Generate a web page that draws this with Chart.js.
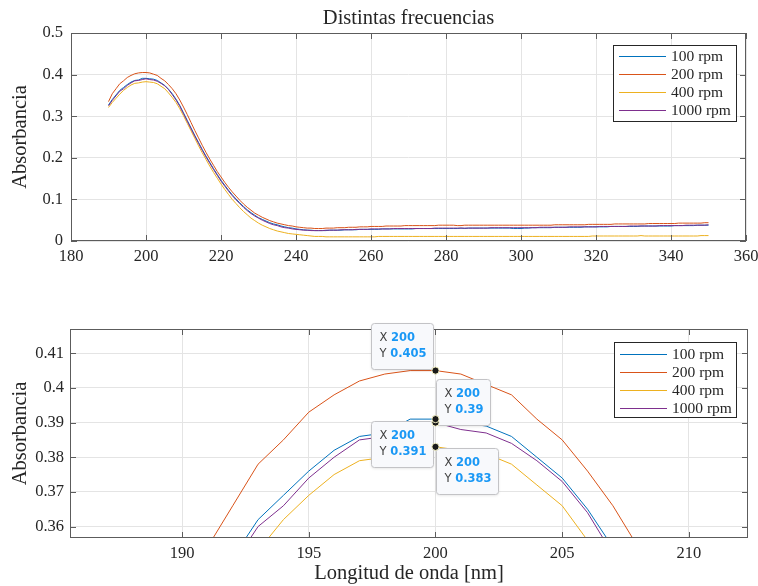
<!DOCTYPE html>
<html>
<head>
<meta charset="utf-8">
<script src="https://cdn.jsdelivr.net/npm/chart.js@4.4.1/dist/chart.umd.min.js"></script>
<style>
  html, body { margin: 0; padding: 0; background: #ffffff; }
  #wrap { position: relative; width: 758px; height: 586px; overflow: hidden; }
  canvas { position: absolute; left: 0; }
  #topChart { top: 0; }
  #zoomChart { top: 290px; }
</style>
</head>
<body>
<div id="wrap">
  <canvas id="topChart" width="758" height="290"></canvas>
  <canvas id="zoomChart" width="758" height="296"></canvas>
</div>
<script>
// Longitudes de onda (nm)
const wavelengths = [
  190, 191, 192, 193, 194, 195, 196, 197, 198, 199,
  200, 201, 202, 203, 204, 205, 206, 207, 208, 209,
  210, 211, 212, 213, 214, 215, 216, 217, 218, 219,
  220, 221, 222, 223, 224, 225, 226, 227, 228, 229,
  230, 231, 232, 233, 234, 235, 236, 237, 238, 239,
  240, 241, 242, 243, 244, 245, 246, 247, 248, 249,
  250, 251, 252, 253, 254, 255, 256, 257, 258, 259,
  260, 261, 262, 263, 264, 265, 266, 267, 268, 269,
  270, 271, 272, 273, 274, 275, 276, 277, 278, 279,
  280, 281, 282, 283, 284, 285, 286, 287, 288, 289,
  290, 291, 292, 293, 294, 295, 296, 297, 298, 299,
  300, 301, 302, 303, 304, 305, 306, 307, 308, 309,
  310, 311, 312, 313, 314, 315, 316, 317, 318, 319,
  320, 321, 322, 323, 324, 325, 326, 327, 328, 329,
  330, 331, 332, 333, 334, 335, 336, 337, 338, 339,
  340, 341, 342, 343, 344, 345, 346, 347, 348, 349,
  350
];

const rpm100 = [
  0.327, 0.340, 0.351, 0.362, 0.369, 0.376, 0.382, 0.386, 0.387, 0.391,
  0.391, 0.390, 0.389, 0.386, 0.380, 0.374, 0.365, 0.354, 0.341, 0.326,
  0.308, 0.290, 0.272, 0.254, 0.237, 0.220, 0.204, 0.189, 0.174, 0.160,
  0.146, 0.134, 0.122, 0.111, 0.101, 0.092, 0.083, 0.075, 0.068, 0.062,
  0.056, 0.052, 0.048, 0.044, 0.041, 0.039, 0.036, 0.034, 0.032, 0.031,
  0.029, 0.028, 0.027, 0.026, 0.026, 0.025, 0.025, 0.025, 0.025, 0.026,
  0.026, 0.026, 0.026, 0.027, 0.027, 0.027, 0.027, 0.028, 0.028, 0.028,
  0.028, 0.028, 0.028, 0.029, 0.029, 0.029, 0.029, 0.029, 0.029, 0.029,
  0.029, 0.029, 0.030, 0.030, 0.030, 0.030, 0.030, 0.030, 0.030, 0.030,
  0.030, 0.030, 0.030, 0.030, 0.031, 0.030, 0.031, 0.031, 0.031, 0.031,
  0.031, 0.031, 0.031, 0.031, 0.031, 0.031, 0.031, 0.031, 0.030, 0.030,
  0.030, 0.031, 0.031, 0.032, 0.032, 0.032, 0.032, 0.032, 0.032, 0.033,
  0.033, 0.033, 0.033, 0.033, 0.033, 0.033, 0.033, 0.034, 0.034, 0.034,
  0.034, 0.034, 0.034, 0.034, 0.035, 0.035, 0.035, 0.035, 0.035, 0.035,
  0.035, 0.035, 0.036, 0.036, 0.036, 0.036, 0.036, 0.036, 0.036, 0.036,
  0.036, 0.037, 0.037, 0.037, 0.037, 0.037, 0.037, 0.038, 0.038, 0.038,
  0.038
];

const rpm200 = [
  0.335, 0.354, 0.366, 0.378, 0.385, 0.393, 0.398, 0.402, 0.404, 0.405,
  0.405, 0.404, 0.401, 0.398, 0.391, 0.385, 0.376, 0.366, 0.354, 0.339,
  0.322, 0.304, 0.285, 0.266, 0.248, 0.230, 0.213, 0.197, 0.182, 0.167,
  0.154, 0.141, 0.129, 0.118, 0.108, 0.098, 0.089, 0.081, 0.074, 0.067,
  0.062, 0.057, 0.053, 0.049, 0.046, 0.043, 0.041, 0.039, 0.037, 0.036,
  0.034, 0.033, 0.032, 0.031, 0.031, 0.030, 0.030, 0.030, 0.031, 0.031,
  0.031, 0.032, 0.032, 0.032, 0.033, 0.033, 0.033, 0.034, 0.034, 0.034,
  0.035, 0.035, 0.035, 0.035, 0.036, 0.036, 0.036, 0.036, 0.036, 0.037,
  0.037, 0.037, 0.037, 0.037, 0.037, 0.037, 0.037, 0.037, 0.038, 0.038,
  0.038, 0.038, 0.038, 0.037, 0.037, 0.038, 0.038, 0.038, 0.038, 0.038,
  0.038, 0.038, 0.038, 0.038, 0.038, 0.038, 0.038, 0.038, 0.038, 0.038,
  0.038, 0.038, 0.038, 0.038, 0.038, 0.038, 0.038, 0.038, 0.038, 0.039,
  0.039, 0.039, 0.039, 0.039, 0.039, 0.039, 0.039, 0.039, 0.040, 0.040,
  0.040, 0.040, 0.040, 0.040, 0.040, 0.041, 0.041, 0.041, 0.041, 0.041,
  0.041, 0.041, 0.041, 0.041, 0.042, 0.042, 0.042, 0.042, 0.042, 0.042,
  0.042, 0.042, 0.043, 0.043, 0.043, 0.043, 0.043, 0.043, 0.043, 0.044,
  0.044
];

const rpm400 = [
  0.321, 0.333, 0.343, 0.353, 0.362, 0.369, 0.375, 0.379, 0.380, 0.382,
  0.383, 0.382, 0.381, 0.378, 0.372, 0.366, 0.356, 0.345, 0.333, 0.318,
  0.301, 0.283, 0.265, 0.247, 0.229, 0.212, 0.196, 0.180, 0.165, 0.151,
  0.137, 0.124, 0.112, 0.100, 0.090, 0.080, 0.071, 0.063, 0.055, 0.049,
  0.043, 0.038, 0.034, 0.030, 0.027, 0.024, 0.022, 0.020, 0.018, 0.017,
  0.016, 0.015, 0.014, 0.013, 0.012, 0.011, 0.011, 0.011, 0.010, 0.010,
  0.010, 0.010, 0.010, 0.010, 0.010, 0.010, 0.010, 0.010, 0.010, 0.010,
  0.010, 0.010, 0.011, 0.011, 0.011, 0.011, 0.011, 0.011, 0.011, 0.011,
  0.011, 0.011, 0.011, 0.011, 0.011, 0.011, 0.011, 0.011, 0.011, 0.011,
  0.011, 0.011, 0.011, 0.011, 0.011, 0.011, 0.011, 0.011, 0.011, 0.011,
  0.011, 0.011, 0.011, 0.011, 0.011, 0.011, 0.011, 0.011, 0.011, 0.011,
  0.011, 0.011, 0.011, 0.011, 0.011, 0.011, 0.011, 0.011, 0.011, 0.011,
  0.011, 0.011, 0.011, 0.011, 0.011, 0.011, 0.011, 0.011, 0.011, 0.012,
  0.012, 0.012, 0.012, 0.012, 0.012, 0.012, 0.012, 0.012, 0.012, 0.012,
  0.012, 0.012, 0.013, 0.012, 0.012, 0.012, 0.012, 0.012, 0.012, 0.012,
  0.012, 0.012, 0.012, 0.012, 0.012, 0.012, 0.012, 0.012, 0.013, 0.013,
  0.013
];

const rpm1000 = [
  0.325, 0.338, 0.349, 0.360, 0.366, 0.374, 0.380, 0.385, 0.386, 0.388,
  0.390, 0.388, 0.387, 0.384, 0.379, 0.373, 0.364, 0.352, 0.339, 0.324,
  0.306, 0.288, 0.270, 0.252, 0.235, 0.218, 0.202, 0.187, 0.172, 0.158,
  0.144, 0.132, 0.120, 0.109, 0.099, 0.090, 0.081, 0.073, 0.066, 0.060,
  0.055, 0.050, 0.046, 0.042, 0.039, 0.037, 0.034, 0.032, 0.031, 0.029,
  0.028, 0.027, 0.026, 0.026, 0.025, 0.025, 0.025, 0.025, 0.026, 0.026,
  0.026, 0.026, 0.027, 0.027, 0.027, 0.027, 0.028, 0.028, 0.028, 0.028,
  0.029, 0.029, 0.029, 0.029, 0.029, 0.029, 0.030, 0.030, 0.030, 0.030,
  0.030, 0.030, 0.030, 0.030, 0.030, 0.030, 0.030, 0.031, 0.031, 0.031,
  0.031, 0.031, 0.031, 0.031, 0.031, 0.031, 0.031, 0.031, 0.031, 0.031,
  0.031, 0.031, 0.032, 0.032, 0.032, 0.032, 0.032, 0.032, 0.032, 0.032,
  0.032, 0.032, 0.032, 0.032, 0.032, 0.033, 0.033, 0.033, 0.033, 0.033,
  0.033, 0.033, 0.033, 0.034, 0.034, 0.034, 0.034, 0.034, 0.034, 0.034,
  0.034, 0.035, 0.035, 0.035, 0.035, 0.035, 0.035, 0.035, 0.035, 0.036,
  0.036, 0.036, 0.036, 0.036, 0.036, 0.036, 0.036, 0.037, 0.037, 0.037,
  0.037, 0.037, 0.037, 0.037, 0.038, 0.038, 0.038, 0.038, 0.038, 0.038,
  0.039
];

const seriesLabels = ['100 rpm', '200 rpm', '400 rpm', '1000 rpm'];

const topXTicks = [180, 200, 220, 240, 260, 280, 300, 320, 340, 360];
const topYTicks = [0, 0.1, 0.2, 0.3, 0.4, 0.5];
const zoomXTicks = [190, 195, 200, 205, 210];
const zoomYTicks = [0.36, 0.37, 0.38, 0.39, 0.4, 0.41];

const matlabColors = ['#0072BD', '#D95319', '#EDB120', '#7E2F8E'];
const serif = "'Liberation Serif', 'Times New Roman', serif";
const textColor = '#262626';

Chart.defaults.font.family = serif;
Chart.defaults.color = textColor;
Chart.defaults.animation = false;

function buildDatasets() {
    return [rpm100, rpm200, rpm400, rpm1000].map((values, i) => ({
        label: seriesLabels[i],
        data: wavelengths.map((nm, k) => ({ x: nm, y: values[k] })),
        borderColor: matlabColors[i],
        backgroundColor: matlabColors[i],
        borderWidth: 1,
        pointRadius: 0,
        tension: 0,
        order: 4 - i   // el último se dibuja encima, como en MATLAB
    }));
}

function fmt(v) { return String(+v.toFixed(3)); }

// caja de ejes + marcas hacia dentro (estilo MATLAB)
const axesFrame = {
    id: 'axesFrame',
    afterDatasetsDraw(chart) {
        const { ctx, chartArea: a, scales: { x, y } } = chart;
        ctx.save();
        ctx.strokeStyle = '#5c5c5c';
        ctx.lineWidth = 1;
        ctx.beginPath();
        x.ticks.forEach(t => {
            const px = Math.round(x.getPixelForValue(t.value)) + 0.5;
            ctx.moveTo(px, a.bottom); ctx.lineTo(px, a.bottom - 6);
            ctx.moveTo(px, a.top); ctx.lineTo(px, a.top + 6);
        });
        y.ticks.forEach(t => {
            const py = Math.round(y.getPixelForValue(t.value)) + 0.5;
            ctx.moveTo(a.left, py); ctx.lineTo(a.left + 6, py);
            ctx.moveTo(a.right, py); ctx.lineTo(a.right - 6, py);
        });
        ctx.stroke();
        ctx.strokeRect(a.left + 0.5, a.top + 0.5, a.width - 1, a.height - 1);
        ctx.restore();
    }
};

// leyenda dentro de los ejes, esquina superior derecha
const boxLegend = {
    id: 'boxLegend',
    afterDraw(chart, args, opts) {
        const { ctx, chartArea: a } = chart;
        const left = Math.round(a.right - opts.right - opts.width);
        const top = Math.round(a.top + opts.top);
        ctx.save();
        ctx.fillStyle = '#ffffff';
        ctx.fillRect(left, top, opts.width, opts.height);
        ctx.strokeStyle = '#262626';
        ctx.lineWidth = 1;
        ctx.strokeRect(left + 0.5, top + 0.5, opts.width, opts.height);
        ctx.font = '15.5px ' + serif;
        ctx.textBaseline = 'middle';
        ctx.textAlign = 'left';
        chart.data.datasets.forEach((ds, i) => {
            const cy = Math.round(top + opts.first + i * opts.rowH) + 0.5;
            ctx.strokeStyle = matlabColors[i];
            ctx.lineWidth = 1.1;
            ctx.beginPath();
            ctx.moveTo(left + 6, cy);
            ctx.lineTo(left + 53, cy);
            ctx.stroke();
            ctx.fillStyle = textColor;
            ctx.fillText(ds.label, left + 58, cy);
        });
        ctx.restore();
    }
};

// titulo del primer grafico
const plotTitle = {
    id: 'plotTitle',
    afterDraw(chart, args, opts) {
        if (!opts.text) return;
        const { ctx, chartArea: a } = chart;
        ctx.save();
        ctx.font = '20.5px ' + serif;
        ctx.fillStyle = textColor;
        ctx.textAlign = 'center';
        ctx.textBaseline = 'middle';
        ctx.fillText(opts.text, (a.left + a.right) / 2, opts.y);
        ctx.restore();
    }
};

// datatips en x = 200
const dataTips = {
    id: 'dataTips',
    afterDraw(chart, args, opts) {
        if (!opts.tips) return;
        const { ctx, scales: { x, y } } = chart;
        const sans = "'DejaVu Sans', sans-serif";
        const size = '11.5px ';
        const points = [];
        ctx.save();
        opts.tips.forEach(tip => {
            const ds = chart.data.datasets[tip.ds];
            const pt = ds.data.find(d => d.x === tip.nm);
            const px = x.getPixelForValue(pt.x);
            const py = y.getPixelForValue(pt.y);
            points.push([px, py]);
            const lines = [['X', fmt(pt.x)], ['Y', fmt(pt.y)]];
            let w = 0;
            lines.forEach(([k, v]) => {
                ctx.font = size + sans;
                const kw = ctx.measureText(k + ' ').width;
                ctx.font = 'bold ' + size + sans;
                w = Math.max(w, kw + ctx.measureText(v).width);
            });
            w = Math.round(w + 15);
            const h = 46;
            let bx, by;
            if (tip.side === 'ul') { bx = px - 2 - w; by = py - 2 - h; }
            if (tip.side === 'ur') { bx = px + 1; by = py + 2 - h; }
            if (tip.side === 'dl') { bx = px - 2 - w; by = py + 2; }
            if (tip.side === 'dr') { bx = px + 1; by = py + 1; }
            bx = Math.round(bx) + 0.5; by = Math.round(by) + 0.5;
            ctx.shadowColor = 'rgba(0,0,0,0.12)';
            ctx.shadowBlur = 3;
            ctx.shadowOffsetY = 1;
            ctx.fillStyle = '#f8f9fc';
            ctx.beginPath();
            ctx.roundRect(bx, by, w, h, 3);
            ctx.fill();
            ctx.shadowColor = 'transparent';
            ctx.strokeStyle = '#c3c3c6';
            ctx.lineWidth = 1;
            ctx.stroke();
            ctx.textBaseline = 'middle';
            ctx.textAlign = 'left';
            lines.forEach(([k, v], li) => {
                const ty = by + 15 + li * 16;
                ctx.font = size + sans;
                ctx.fillStyle = '#404040';
                ctx.fillText(k, bx + 8, ty);
                const kw = ctx.measureText(k + ' ').width;
                ctx.font = 'bold ' + size + sans;
                ctx.fillStyle = '#1a98f5';
                ctx.fillText(v, bx + 8 + kw, ty);
            });
        });
        points.forEach(([px, py]) => {
            ctx.beginPath();
            ctx.arc(px, py, 3.6, 0, Math.PI * 2);
            ctx.fillStyle = '#1a1a1a';
            ctx.fill();
            ctx.strokeStyle = '#f4f1c4';
            ctx.lineWidth = 1;
            ctx.stroke();
        });
        ctx.restore();
    }
};

function axisOptions(cfg) {
    return {
        type: 'linear',
        position: cfg.position,
        min: cfg.min,
        max: cfg.max,
        grid: { color: '#e4e4e4', lineWidth: 1, drawTicks: false },
        border: { display: false },
        ticks: {
            padding: cfg.pad,
            font: { size: 16.5 },
            color: textColor,
            callback: v => String(+v.toFixed(2))
        },
        title: cfg.title ? {
            display: true,
            text: cfg.title,
            font: { size: 20.5 },
            color: textColor,
            padding: cfg.titlePad
        } : { display: false },
        afterBuildTicks: s => { s.ticks = cfg.ticks.map(v => ({ value: v })); },
        afterFit: s => {
            if (cfg.position === 'left') {
                s.width = cfg.size;
                s.paddingTop = 0; s.paddingBottom = 0;
            } else {
                s.height = cfg.size;
                s.paddingLeft = 0; s.paddingRight = 0;
            }
        }
    };
}

// Grafico completo
const topChart = new Chart(document.getElementById('topChart'), {
    type: 'line',
    data: { datasets: buildDatasets() },
    options: {
        responsive: false,
        devicePixelRatio: 1,
        layout: { padding: { top: 33, right: 12, bottom: 0, left: 0 } },
        scales: {
            x: axisOptions({ position: 'bottom', min: 180, max: 360, ticks: topXTicks, pad: 6, size: 49 }),
            y: axisOptions({ position: 'left', min: 0, max: 0.5, ticks: topYTicks, pad: 8, size: 71,
                             title: 'Absorbancia', titlePad: { top: 8, bottom: 0 } })
        },
        plugins: {
            legend: { display: false },
            tooltip: { enabled: false },
            plotTitle: { text: 'Distintas frecuencias', y: 19 },
            boxLegend: { right: 10, top: 12, width: 123, height: 76, first: 11, rowH: 18 }
        }
    },
    plugins: [axesFrame, boxLegend, plotTitle]
});

// Zoom alrededor del maximo
const zoomChart = new Chart(document.getElementById('zoomChart'), {
    type: 'line',
    data: { datasets: buildDatasets() },
    options: {
        responsive: false,
        devicePixelRatio: 1,
        layout: { padding: { top: 39, right: 10, bottom: 0, left: 0 } },
        scales: {
            x: axisOptions({ position: 'bottom', min: 185.58, max: 212.33, ticks: zoomXTicks, pad: 6, size: 48,
                             title: 'Longitud de onda [nm]', titlePad: { top: 0, bottom: 0 } }),
            y: axisOptions({ position: 'left', min: 0.3567, max: 0.417, ticks: zoomYTicks, pad: 6, size: 70,
                             title: 'Absorbancia', titlePad: { top: 8, bottom: 0 } })
        },
        plugins: {
            legend: { display: false },
            tooltip: { enabled: false },
            boxLegend: { right: 12, top: 13, width: 122, height: 75, first: 12, rowH: 18 },
            dataTips: {
                tips: [
                    { ds: 1, nm: 200, side: 'ul' },
                    { ds: 3, nm: 200, side: 'ur' },
                    { ds: 0, nm: 200, side: 'dl' },
                    { ds: 2, nm: 200, side: 'dr' }
                ]
            }
        }
    },
    plugins: [axesFrame, boxLegend, dataTips]
});
</script>
</body>
</html>
